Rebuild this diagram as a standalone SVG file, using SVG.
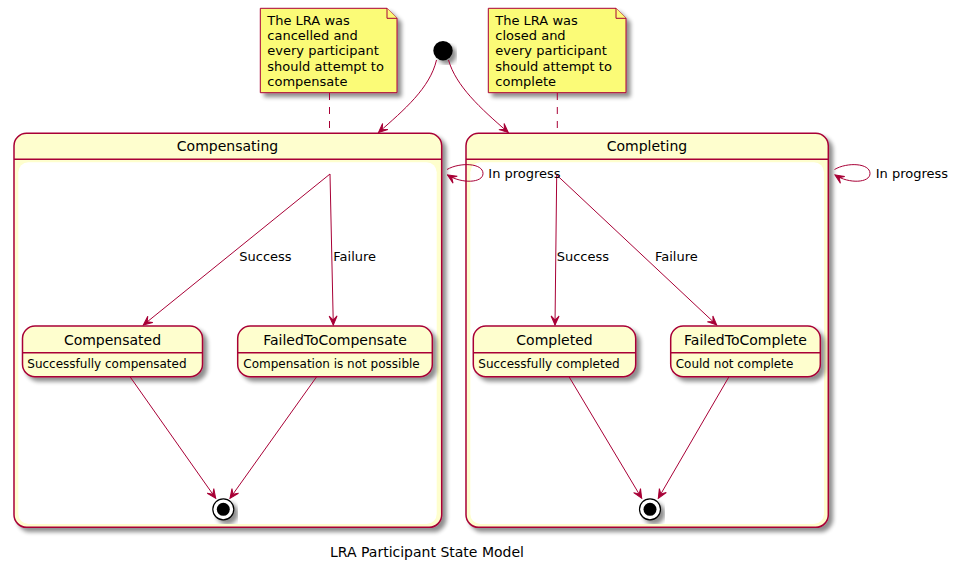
<svg xmlns="http://www.w3.org/2000/svg" width="958" height="570" viewBox="0 0 958 570">
<style>
text{font-family:"DejaVu Sans","Liberation Sans",sans-serif;fill:#000}
.st{fill:#FEFECE;stroke:#A80036;stroke-width:1.5}
.inner{fill:#FFFFFF;stroke:none}
.sep{stroke:#A80036;stroke-width:1.5}
.note{fill:#FBFB77;stroke:#A80036;stroke-width:1}
.t14{font-size:14px}
.t13{font-size:13px}
.t12{font-size:12px}
.c{text-anchor:middle}
.edge{fill:none;stroke:#A80036;stroke-width:1;marker-end:url(#ah)}
.dash{fill:none;stroke:#A80036;stroke-width:1;stroke-dasharray:7,7}
</style>
<defs>
<filter id="sh" x="-10%" y="-10%" width="130%" height="130%">
<feGaussianBlur in="SourceAlpha" stdDeviation="2"/>
<feOffset dx="4" dy="4" result="b"/>
<feComponentTransfer><feFuncA type="linear" slope="0.45"/></feComponentTransfer>
<feMerge><feMergeNode/><feMergeNode in="SourceGraphic"/></feMerge>
</filter>
<marker id="ah" viewBox="-10 -5 11 10" refX="0" refY="0" markerWidth="11" markerHeight="10" markerUnits="userSpaceOnUse" orient="auto">
<path d="M0,0 L-9,-4 L-5,0 L-9,4 Z" fill="#A80036" stroke="#A80036" stroke-width="1"/>
</marker>
</defs>

<g id="Compensating">
<rect class="st" x="14" y="133.3" width="427.7" height="394" rx="12.5" filter="url(#sh)"/>
<line class="sep" x1="14" y1="159.3" x2="441.7" y2="159.3"/>
<rect class="inner" x="18.3" y="162.3" width="418.4" height="361.7" rx="10"/>
<text class="t14 c" x="227.5" y="150.5">Compensating</text>
</g>

<g id="Completing">
<rect class="st" x="466" y="133.3" width="362.3" height="394" rx="12.5" filter="url(#sh)"/>
<line class="sep" x1="466" y1="159.3" x2="828.3" y2="159.3"/>
<rect class="inner" x="470.3" y="162.3" width="353.7" height="361.7" rx="10"/>
<text class="t14 c" x="647" y="150.5">Completing</text>
</g>

<g id="note1">
<path class="note" d="M260.3,8.3 L387,8.3 L397,18.3 L397,92.7 L260.3,92.7 Z" filter="url(#sh)"/>
<path class="note" d="M387,8.3 L387,18.3 L397,18.3"/>
<text class="t13" x="267.3" y="25.2">The LRA was</text>
<text class="t13" x="267.3" y="40.3">cancelled and</text>
<text class="t13" x="267.3" y="55.4">every participant</text>
<text class="t13" x="267.3" y="70.5">should attempt to</text>
<text class="t13" x="267.3" y="85.6">compensate</text>
</g>

<g id="note2">
<path class="note" d="M488.3,8.3 L616,8.3 L626,18.3 L626,92.7 L488.3,92.7 Z" filter="url(#sh)"/>
<path class="note" d="M616,8.3 L616,18.3 L626,18.3"/>
<text class="t13" x="495.3" y="25.2">The LRA was</text>
<text class="t13" x="495.3" y="40.3">closed and</text>
<text class="t13" x="495.3" y="55.4">every participant</text>
<text class="t13" x="495.3" y="70.5">should attempt to</text>
<text class="t13" x="495.3" y="85.6">complete</text>
</g>

<g id="start">
<circle cx="443" cy="50.7" r="9.7" fill="#000" filter="url(#sh)"/>
</g>

<g id="Compensated">
<rect class="st" x="22.5" y="326" width="180" height="50.7" rx="12.5" filter="url(#sh)"/>
<line class="sep" x1="22.5" y1="352.7" x2="202.5" y2="352.7"/>
<text class="t14 c" x="112.5" y="345">Compensated</text>
<text class="t12" x="27.3" y="367.5">Successfully compensated</text>
</g>

<g id="FailedToCompensate">
<rect class="st" x="237.7" y="326" width="194.6" height="50.7" rx="12.5" filter="url(#sh)"/>
<line class="sep" x1="237.7" y1="352.7" x2="432.3" y2="352.7"/>
<text class="t14 c" x="335" y="345">FailedToCompensate</text>
<text class="t12" x="243.3" y="367.5">Compensation is not possible</text>
</g>

<g id="Completed">
<rect class="st" x="473.3" y="326" width="162.4" height="50.7" rx="12.5" filter="url(#sh)"/>
<line class="sep" x1="473.3" y1="352.7" x2="635.7" y2="352.7"/>
<text class="t14 c" x="554.5" y="345">Completed</text>
<text class="t12" x="478.3" y="367.5">Successfully completed</text>
</g>

<g id="FailedToComplete">
<rect class="st" x="670.7" y="326" width="149.6" height="50.7" rx="12.5" filter="url(#sh)"/>
<line class="sep" x1="670.7" y1="352.7" x2="820.3" y2="352.7"/>
<text class="t14 c" x="745.5" y="345">FailedToComplete</text>
<text class="t12" x="675.7" y="367.5">Could not complete</text>
</g>

<g id="end1">
<circle cx="223.3" cy="509.3" r="10.5" fill="#FFFFFF" stroke="#000" stroke-width="1.2" filter="url(#sh)"/>
<circle cx="223.3" cy="509.3" r="6.5" fill="#000"/>
</g>

<g id="end2">
<circle cx="650" cy="509.3" r="10.5" fill="#FFFFFF" stroke="#000" stroke-width="1.2" filter="url(#sh)"/>
<circle cx="650" cy="509.3" r="6.5" fill="#000"/>
</g>

<g id="connectors">
<path class="edge" d="M436.5,60 C430,88 404,110 378.5,132.5"/>
<path class="edge" d="M448.5,60 C456,86 480,108 508.3,132.5"/>
<path class="dash" d="M329.5,93 L329.5,133"/>
<path class="dash" d="M557.3,93 L557.3,133"/>
<path class="edge" d="M447,169.5 C460,162 483,163 483,173.5 C483,183 462,184 447.5,175"/>
<path class="edge" d="M834.5,169.5 C847,162 870,163 870,173.5 C870,183 849,184 835,175"/>
<path class="edge" d="M330,174 L143.3,325"/>
<path class="edge" d="M330,174 L333.3,325"/>
<path class="edge" d="M130,376.7 L215.7,498.3"/>
<path class="edge" d="M316.7,376.7 L230,498.3"/>
<path class="edge" d="M556.7,175 L555,325"/>
<path class="edge" d="M556.7,175 L716.7,325"/>
<path class="edge" d="M569,376.7 L641.7,498.3"/>
<path class="edge" d="M729,376.7 L658.3,498.3"/>
<text class="t13" x="488.3" y="178">In progress</text>
<text class="t13" x="875.7" y="178">In progress</text>
<text class="t13" x="239.3" y="261">Success</text>
<text class="t13" x="333.3" y="261">Failure</text>
<text class="t13" x="556.7" y="261">Success</text>
<text class="t13" x="655" y="261">Failure</text>
</g>

<text class="t14" x="330" y="557">LRA Participant State Model</text>
</svg>
